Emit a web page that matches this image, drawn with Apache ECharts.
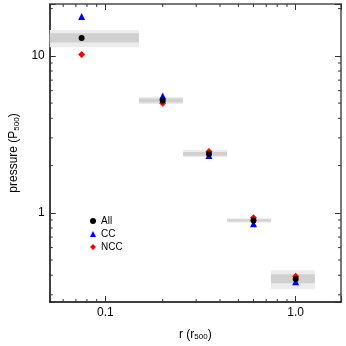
<!DOCTYPE html>
<html>
<head>
    <meta charset="utf-8">
    <title>pressure profile</title>
    <script src="https://cdn.jsdelivr.net/npm/echarts@6/dist/echarts.min.js"></script>
    <style>
        html, body {margin:0;padding:0;background:#fff;}
        #chart {width:346px;height:346px;}
    </style>
</head>
<body>
<div id="chart"></div>
<script>
    // radial bins (r500) and the points inside them
    const binLo = [0.01, 0.15, 0.256, 0.436, 0.741];
    const binHi = [0.15, 0.256, 0.436, 0.741, 1.26];
    const rMid = [0.075, 0.2, 0.35, 0.6, 1.0];
    // pressure (P500)
    const pAll = [13.0, 5.2, 2.37, 0.894, 0.379];
    const pCC = [17.8, 5.55, 2.32, 0.85, 0.364];
    const pNCC = [10.2, 4.98, 2.46, 0.929, 0.394];
    // scatter bands, outer and inner
    const outerLo = [11.36, 4.93, 2.26, 0.864, 0.325];
    const outerHi = [14.63, 5.46, 2.52, 0.924, 0.430];
    const innerLo = [12.15, 5.05, 2.31, 0.88, 0.355];
    const innerHi = [13.94, 5.35, 2.44, 0.91, 0.405];
    // log minor ticks
    const xMinor = [0.06, 0.07, 0.08, 0.09, 0.2, 0.3, 0.4, 0.5, 0.6, 0.7, 0.8, 0.9];
    const yMinor = [0.3, 0.4, 0.5, 0.6, 0.7, 0.8, 0.9, 2, 3, 4, 5, 6, 7, 8, 9, 20];

    const X_MIN = 0.051, X_MAX = 1.73;
    const Y_MIN = 0.27, Y_MAX = 21.4;
    const FONT = 'Liberation Sans';

    const chart = echarts.init(document.getElementById('chart'), null, {renderer: 'canvas'});

    function pts(arr) {
        return rMid.map((r, i) => [r, arr[i]]);
    }

    function bandItem(lo, hi, color) {
        return function (params, api) {
            const i = params.dataIndex;
            const p0 = api.coord([binLo[i], hi[i]]);
            const p1 = api.coord([binHi[i], lo[i]]);
            const cs = params.coordSys;
            const shape = echarts.graphic.clipRectByRect(
                {x: p0[0], y: p0[1], width: p1[0] - p0[0], height: p1[1] - p0[1]},
                {x: cs.x, y: cs.y, width: cs.width, height: cs.height}
            );
            return shape && {type: 'rect', shape: shape, style: {fill: color}};
        };
    }

    const bandData = rMid.map((r, i) => [r, pAll[i]]);

    const axisCommon = {
        type: 'log',
        logBase: 10,
        splitLine: {show: false},
        axisTick: {inside: true, length: 6, lineStyle: {color: '#333', width: 1}},
        minorTick: {show: false}
    };

    const subStyle = {fontFamily: FONT, fontSize: 8, color: '#000', verticalAlign: 'bottom', padding: [5, 0, 0, 0]};

    const option = {
        animation: false,
        backgroundColor: '#fff',
        grid: {left: 47, top: 4, right: 5, bottom: 43},
        legend: {
            orient: 'vertical',
            left: 85,
            top: 211,
            itemWidth: 6,
            itemHeight: 6,
            itemGap: 3,
            textStyle: {fontFamily: FONT, fontSize: 10, color: '#000'},
            data: ['All', 'CC', 'NCC']
        },
        xAxis: [
            Object.assign({}, axisCommon, {
                position: 'bottom',
                min: X_MIN, max: X_MAX,
                axisLine: {lineStyle: {color: '#000', width: 1.5}},
                axisLabel: {
                    fontFamily: FONT, fontSize: 12, color: '#000', margin: 5,
                    formatter: function (v) {
                        if (Math.abs(v - 0.1) < 1e-6) return '0.1';
                        if (Math.abs(v - 1) < 1e-6) return '1.0';
                        return '';
                    }
                },
                name: 'r (r{s|500})',
                nameLocation: 'middle',
                nameGap: 26,
                nameTextStyle: {fontFamily: FONT, fontSize: 12, color: '#000', rich: {s: subStyle}}
            }),
            Object.assign({}, axisCommon, {
                position: 'top',
                min: X_MIN, max: X_MAX,
                axisLine: {lineStyle: {color: '#777', width: 2}},
                axisLabel: {show: false}
            })
        ],
        yAxis: [
            Object.assign({}, axisCommon, {
                position: 'left',
                min: Y_MIN, max: Y_MAX,
                axisLine: {lineStyle: {color: '#000', width: 1.5}},
                axisLabel: {
                    fontFamily: FONT, fontSize: 12, color: '#000', margin: 5,
                    formatter: function (v) {
                        if (Math.abs(v - 1) < 1e-6) return '1';
                        if (Math.abs(v - 10) < 1e-6) return '10';
                        return '';
                    }
                },
                name: 'pressure (P{s|500})',
                nameLocation: 'middle',
                nameGap: 29,
                nameTextStyle: {fontFamily: FONT, fontSize: 12, color: '#000', rich: {s: subStyle}}
            }),
            Object.assign({}, axisCommon, {
                position: 'right',
                min: Y_MIN, max: Y_MAX,
                axisLine: {lineStyle: {color: '#777', width: 2}},
                axisLabel: {show: false}
            })
        ],
        series: [
            {
                type: 'custom', silent: true, z: 1,
                renderItem: bandItem(outerLo, outerHi, '#ececec'),
                data: bandData
            },
            {
                type: 'custom', silent: true, z: 2,
                renderItem: bandItem(innerLo, innerHi, '#d0d0d0'),
                data: bandData
            },
            {
                // x minor ticks, bottom and top
                type: 'custom', silent: true, z: 5,
                renderItem: function (params, api) {
                    const x = api.coord([api.value(0), 1])[0];
                    const cs = params.coordSys;
                    const st = {stroke: '#333', lineWidth: 1};
                    return {type: 'group', children: [
                        {type: 'line', shape: {x1: x, y1: cs.y + cs.height, x2: x, y2: cs.y + cs.height - 3}, style: st},
                        {type: 'line', shape: {x1: x, y1: cs.y, x2: x, y2: cs.y + 3}, style: st}
                    ]};
                },
                data: xMinor.map(v => [v, 1])
            },
            {
                // y minor ticks, left and right
                type: 'custom', silent: true, z: 5,
                renderItem: function (params, api) {
                    const y = api.coord([1, api.value(1)])[1];
                    const cs = params.coordSys;
                    const st = {stroke: '#333', lineWidth: 1};
                    return {type: 'group', children: [
                        {type: 'line', shape: {x1: cs.x, y1: y, x2: cs.x + 3, y2: y}, style: st},
                        {type: 'line', shape: {x1: cs.x + cs.width, y1: y, x2: cs.x + cs.width - 3, y2: y}, style: st}
                    ]};
                },
                data: yMinor.map(v => [1, v])
            },
            {
                name: 'NCC', type: 'scatter', z: 10,
                symbol: 'diamond', symbolSize: 7,
                itemStyle: {color: '#ff0000', opacity: 1},
                data: pts(pNCC)
            },
            {
                name: 'CC', type: 'scatter', z: 11,
                symbol: 'triangle', symbolSize: 7,
                itemStyle: {color: '#0000ff', opacity: 1},
                data: pts(pCC)
            },
            {
                name: 'All', type: 'scatter', z: 12,
                symbol: 'circle', symbolSize: 6,
                itemStyle: {color: '#000', opacity: 1},
                data: pts(pAll)
            }
        ]
    };

    chart.setOption(option);
    window.onresize = function () { chart.resize(); };
</script>
</body>
</html>
